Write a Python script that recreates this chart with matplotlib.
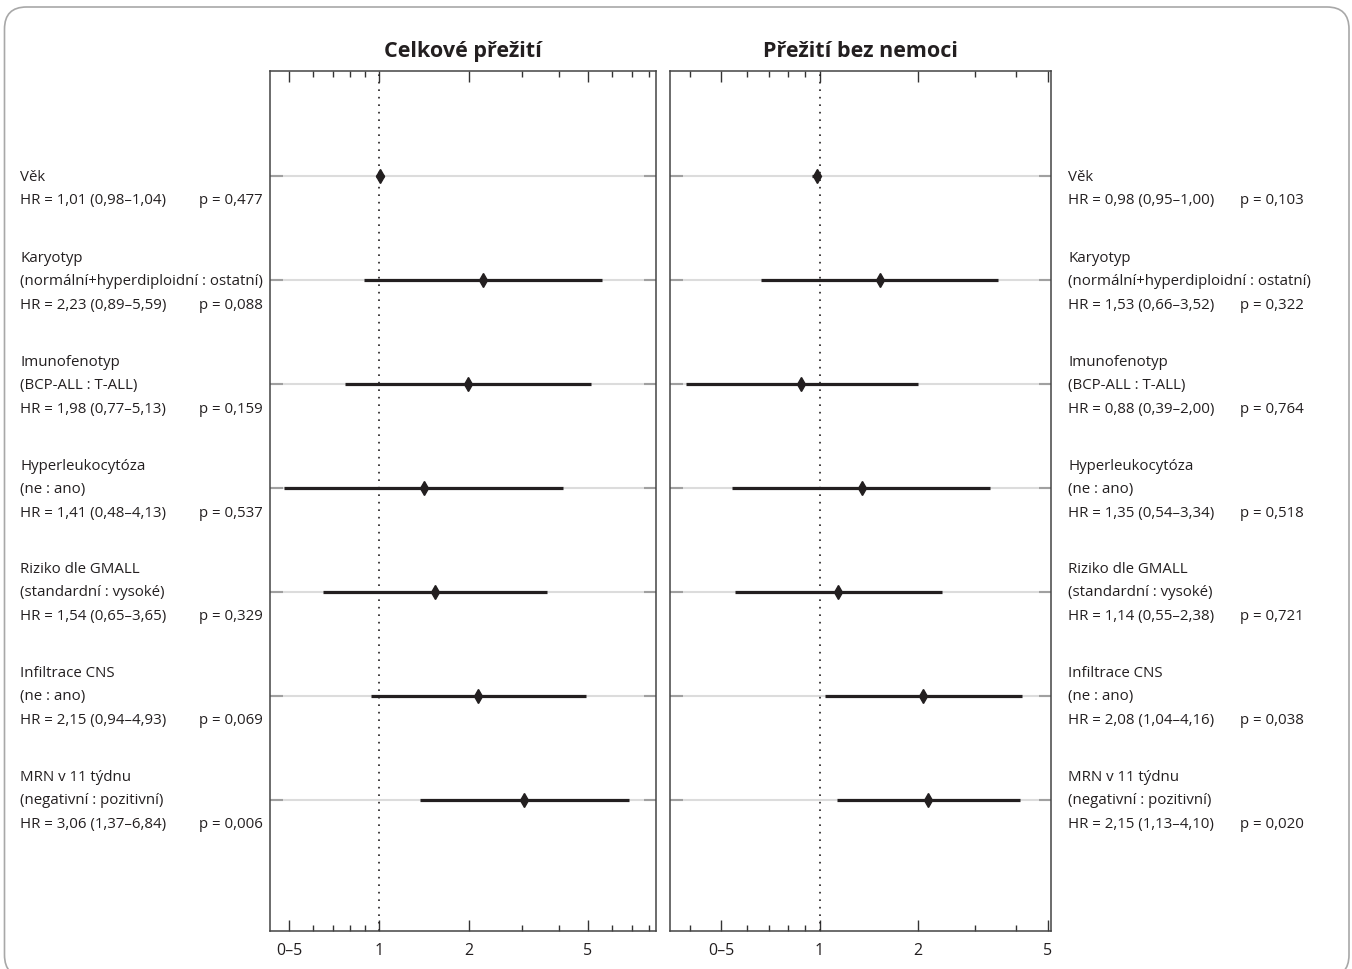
import matplotlib
matplotlib.use("Agg")
import matplotlib.pyplot as plt
from matplotlib.patches import FancyBboxPatch
from matplotlib.transforms import IdentityTransform
from matplotlib.ticker import FixedLocator, NullFormatter

plt.rcParams["font.family"] = ["Open Sans", "DejaVu Sans"]
TXT = "#231f20"

# --- data ---
names = ["Věk", "Karyotyp", "Imunofenotyp", "Hyperleukocytóza",
         "Riziko dle GMALL", "Infiltrace CNS", "MRN v 11 týdnu"]
contrasts = ["", "(normální+hyperdiploidní : ostatní)", "(BCP-ALL : T-ALL)",
             "(ne : ano)", "(standardní : vysoké)", "(ne : ano)",
             "(negativní : pozitivní)"]

os_hr = [1.01, 2.23, 1.98, 1.41, 1.54, 2.15, 3.06]
os_lo = [0.98, 0.89, 0.77, 0.48, 0.65, 0.94, 1.37]
os_hi = [1.04, 5.59, 5.13, 4.13, 3.65, 4.93, 6.84]
os_p = [0.477, 0.088, 0.159, 0.537, 0.329, 0.069, 0.006]

dfs_hr = [0.98, 1.53, 0.88, 1.35, 1.14, 2.08, 2.15]
dfs_lo = [0.95, 0.66, 0.39, 0.54, 0.55, 1.04, 1.13]
dfs_hi = [1.00, 3.52, 2.00, 3.34, 2.38, 4.16, 4.10]
dfs_p = [0.103, 0.322, 0.764, 0.518, 0.721, 0.038, 0.020]

tick_vals = [0.5, 1, 2, 5]
tick_labels = ["0–5", "1", "2", "5"]


def cz(v, nd):
    return f"{v:.{nd}f}".replace(".", ",")


def forest(ax, hr, lo, hi, title, xlim, minors):
    rows = list(range(1, len(hr) + 1))
    ax.set_xscale("log")
    ax.set_xlim(*xlim)
    ax.set_ylim(8.26, -0.01)
    ax.hlines(rows, xlim[0], xlim[1], color="#dcdcdc", lw=1.5, zorder=1)
    ax.axvline(1, color=TXT, lw=1.2, ls=(0, (1, 3.5)), zorder=2)
    ax.hlines(rows, lo, hi, color=TXT, lw=2.3, zorder=3)
    ax.plot(hr, rows, ls="none", marker="d", ms=7.5, color=TXT, zorder=4)

    ax.xaxis.set_major_locator(FixedLocator(tick_vals))
    ax.set_xticklabels(tick_labels)
    ax.xaxis.set_minor_locator(FixedLocator(minors))
    ax.xaxis.set_minor_formatter(NullFormatter())
    ax.tick_params(axis="x", which="major", direction="in", length=8,
                   width=1, top=True, bottom=True, color="#333",
                   labelsize=11.5, labelcolor=TXT, pad=8)
    ax.tick_params(axis="x", which="minor", direction="in", length=4,
                   width=1, top=True, bottom=True, color="#333")
    ax.set_yticks(rows)
    ax.set_yticklabels([])
    ax.tick_params(axis="y", direction="in", length=9, width=1.5,
                   left=True, right=True, color="#a0a0a0")
    for s in ax.spines.values():
        s.set_color("#444")
        s.set_linewidth(1.1)
    ax.set_title(title, fontsize=15.5, fontweight="bold", color=TXT, pad=11)


def labels(ax, hr, lo, hi, pv, x_txt, x_p, p_align):
    fs = 10.8
    for i in range(len(hr)):
        row = i + 1
        hr_txt = f"HR = {cz(hr[i], 2)} ({cz(lo[i], 2)}–{cz(hi[i], 2)})"
        if contrasts[i]:
            lines = [names[i], contrasts[i], hr_txt]
            offs = [23, 0, -24]
        else:
            lines = [names[i], hr_txt]
            offs = [0, -23]
        for txt, dy in zip(lines, offs):
            ax.annotate(txt, xy=(x_txt, row), xycoords=("figure fraction", "data"),
                        xytext=(0, dy), textcoords="offset pixels",
                        ha="left", va="center", fontsize=fs, color=TXT,
                        annotation_clip=False)
        ax.annotate(f"p = {cz(pv[i], 3)}", xy=(x_p, row),
                    xycoords=("figure fraction", "data"),
                    xytext=(0, offs[-1]), textcoords="offset pixels",
                    ha=p_align, va="center", fontsize=fs, color=TXT,
                    annotation_clip=False)


fig = plt.figure(figsize=(13.52, 9.70), dpi=100)
ax1 = fig.add_axes([270 / 1352, 38 / 970, 386 / 1352, 860 / 970])
ax2 = fig.add_axes([670 / 1352, 38 / 970, 381 / 1352, 860 / 970])

forest(ax1, os_hr, os_lo, os_hi, "Celkové přežití", (0.432, 8.45),
       [0.6, 0.7, 0.8, 0.9, 3, 4, 6, 7, 8])
forest(ax2, dfs_hr, dfs_lo, dfs_hi, "Přežití bez nemoci", (0.348, 5.12),
       [0.4, 0.6, 0.7, 0.8, 0.9, 3, 4])

labels(ax1, os_hr, os_lo, os_hi, os_p, 20 / 1352, 263 / 1352, "right")
labels(ax2, dfs_hr, dfs_lo, dfs_hi, dfs_p, 1068 / 1352, 1240 / 1352, "left")

# rounded frame around the whole figure
frame = FancyBboxPatch((4.5, -8), 1344.5, 970, boxstyle="round,pad=0,rounding_size=22",
                       transform=IdentityTransform(), fill=False,
                       ec="#a8a8a8", lw=1.2)
fig.add_artist(frame)

fig.savefig("out.png", dpi=100)
